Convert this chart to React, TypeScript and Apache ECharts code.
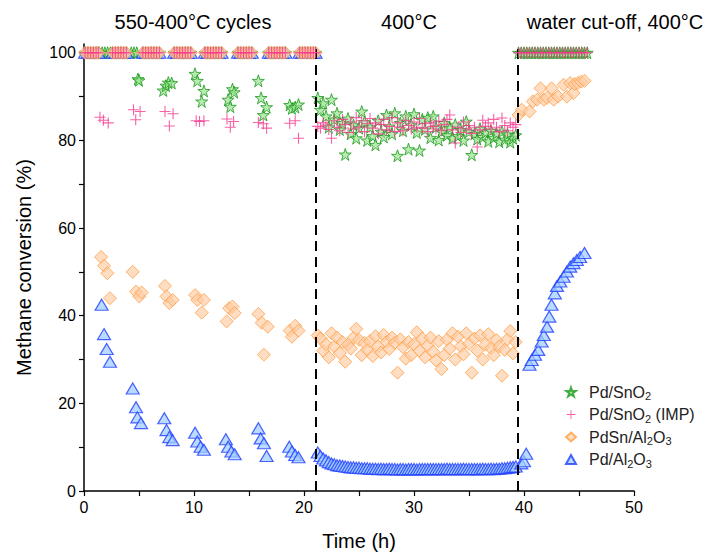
import React, { useEffect, useRef } from 'react';
import * as echarts from 'echarts';

// ---- Data (time in h, methane conversion in %) ----
// Times at which all catalysts sit at 100 % during the 550 °C parts of the cycles
const cycleHighTimes = [
  0.1, 0.35, 0.6, 0.85, 1.1, 1.3,
  2.6, 2.85, 3.1, 3.35, 3.6, 3.85,
  5.35, 5.6, 5.85, 6.1, 6.35, 6.6, 6.85,
  8.2, 8.45, 8.7, 8.95, 9.2, 9.45, 9.7,
  11.0, 11.25, 11.5, 11.75, 12.0, 12.25, 12.5,
  14.0, 14.25, 14.5, 14.75, 15.0, 15.25,
  16.8, 17.05, 17.3, 17.55, 17.8, 18.05, 18.3,
  19.6, 19.85, 20.1, 20.35, 20.6, 20.85, 21.05,
];
// Extra 100 % points of Pd/SnO2 (it stays at full conversion longer)
const snO2ExtraHighTimes = [1.4, 1.65, 1.9, 2.15, 2.4, 4.3, 4.55, 4.8];
// 100 % points after water cut-off (Pd/SnO2 and Pd/SnO2 IMP)
const waterCutHighTimes = [
  39.5, 39.75, 40.0, 40.25, 40.5, 40.75, 41.0, 41.25, 41.5, 41.75, 42.0, 42.25, 42.5,
  42.75, 43.0, 43.25, 43.5, 43.75, 44.0, 44.25, 44.5, 44.75, 45.0, 45.25, 45.5, 45.75,
];

// Pd/SnO2
const snO2CycleLow = [
  [4.9, 94.0], [5.0, 93.7], [7.2, 91.4], [7.45, 92.5], [7.67, 93.2], [7.97, 93.1],
  [10.09, 95.2], [10.3, 93.6], [10.7, 88.9], [10.9, 91.3], [13.1, 89.3], [13.3, 87.7],
  [13.5, 91.7], [13.65, 91.0], [15.85, 93.6], [16.1, 89.7], [16.3, 85.8], [16.6, 87.6],
  [18.7, 88.1], [18.9, 87.3], [19.2, 87.6], [19.5, 88.2],
];
const snO2Steady = [
  [21.25, 89.7], [21.5, 87.0], [21.75, 88.5], [22.0, 85.5], [22.25, 83.0], [22.5, 89.3],
  [22.75, 84.8], [23.0, 86.2], [23.25, 82.5], [23.5, 84.0], [23.75, 76.8], [24.0, 85.0],
  [24.25, 81.5], [24.5, 83.5], [24.75, 80.5], [25.0, 82.8], [25.25, 86.6], [25.5, 84.2],
  [25.75, 80.0], [26.0, 83.0], [26.25, 81.0], [26.5, 79.0], [26.75, 84.5], [27.0, 82.0],
  [27.25, 80.8], [27.5, 85.8], [27.75, 83.2], [28.0, 81.5], [28.25, 86.2], [28.5, 76.5],
  [28.75, 84.0], [29.0, 82.2], [29.25, 85.5], [29.5, 78.0], [29.75, 83.5], [30.0, 86.0],
  [30.25, 81.8], [30.5, 77.7], [30.75, 84.8], [31.0, 82.5], [31.25, 85.2], [31.5, 80.6],
  [31.75, 85.5], [32.0, 83.0], [32.25, 80.1], [32.5, 82.0], [32.75, 84.0], [33.0, 81.2],
  [33.25, 82.8], [33.5, 80.5], [33.75, 83.6], [34.0, 81.0], [34.25, 82.4], [34.5, 80.0],
  [34.75, 84.3], [35.0, 82.0], [35.25, 76.7], [35.5, 81.5], [35.75, 80.3], [36.0, 82.7],
  [36.25, 80.8], [36.5, 81.8], [36.75, 79.8], [37.0, 82.2], [37.25, 80.6], [37.5, 81.6],
  [37.75, 79.7], [38.0, 82.0], [38.25, 80.2], [38.5, 81.4], [38.75, 79.6], [39.0, 80.5],
  [39.25, 81.2],
];

// Pd/SnO2 (IMP)
const impCycleLow = [
  [1.45, 85.3], [1.76, 84.6], [2.2, 84.0], [4.5, 87.0], [4.7, 84.7], [5.1, 86.6],
  [7.36, 86.6], [7.76, 83.3], [8.1, 86.1], [10.2, 84.5], [10.5, 84.3], [10.9, 84.5],
  [13.0, 84.9], [13.3, 83.0], [13.6, 84.3], [15.85, 84.1], [16.3, 83.8], [16.6, 82.8],
  [18.7, 83.9], [19.2, 84.5], [19.5, 80.5],
];
const impSteady = [
  [21.25, 83.2], [21.5, 82.8], [21.75, 84.0], [22.0, 83.5], [22.25, 82.5], [22.5, 80.5],
  [22.75, 84.5], [23.0, 83.0], [23.25, 82.2], [23.5, 84.8], [23.75, 83.6], [24.0, 81.8],
  [24.25, 84.2], [24.5, 82.6], [24.75, 85.2], [25.0, 83.0], [25.25, 84.5], [25.5, 82.0],
  [25.75, 83.8], [26.0, 85.0], [26.25, 82.8], [26.5, 84.0], [26.75, 81.5], [27.0, 83.6],
  [27.25, 84.8], [27.5, 82.4], [27.75, 83.2], [28.0, 85.2], [28.25, 82.0], [28.5, 84.0],
  [28.75, 83.0], [29.0, 82.2], [29.25, 84.6], [29.5, 83.4], [29.75, 82.6], [30.0, 84.2],
  [30.25, 83.0], [30.5, 85.0], [30.75, 82.8], [31.0, 83.8], [31.25, 82.0], [31.5, 84.0],
  [31.75, 83.2], [32.0, 82.6], [32.25, 84.4], [32.5, 82.2], [32.75, 83.6], [33.0, 84.8],
  [33.25, 85.8], [33.5, 82.4], [33.75, 79.4], [34.0, 83.0], [34.25, 81.8], [34.5, 84.2],
  [34.75, 82.6], [35.0, 83.4], [35.25, 81.6], [35.5, 83.0], [35.75, 78.5], [36.0, 82.4],
  [36.25, 84.6], [36.5, 83.2], [36.75, 84.0], [37.0, 82.6], [37.25, 84.8], [37.5, 83.0],
  [37.75, 82.0], [38.0, 85.1], [38.25, 83.4], [38.5, 82.2], [38.75, 84.0], [39.0, 83.0],
  [39.25, 83.6],
];

// PdSn/Al2O3
const pdSnCycleLow = [
  [1.55, 53.4], [1.82, 51.4], [2.12, 49.7], [2.36, 44.0], [4.43, 50.0], [4.73, 45.5],
  [5.03, 44.4], [5.24, 45.3], [7.36, 46.8], [7.5, 44.4], [7.76, 42.9], [8.06, 43.6],
  [10.1, 44.7], [10.3, 43.6], [10.7, 40.7], [10.9, 43.6], [12.97, 38.7], [13.2, 41.7],
  [13.5, 42.1], [13.7, 40.6], [15.85, 40.4], [16.15, 38.4], [16.36, 31.1], [16.7, 37.5],
  [18.7, 36.6], [18.9, 35.2], [19.2, 37.7], [19.5, 36.6],
];
const pdSnSteady = [
  [21.25, 35.5], [21.5, 34.8], [21.75, 32.0], [22.0, 33.5], [22.25, 30.5], [22.5, 36.0],
  [22.75, 33.0], [23.0, 35.0], [23.25, 31.5], [23.5, 34.0], [23.75, 29.5], [24.0, 33.5],
  [24.25, 32.5], [24.5, 35.0], [24.75, 37.0], [25.0, 34.5], [25.25, 31.0], [25.5, 33.8],
  [25.75, 32.2], [26.0, 34.2], [26.25, 30.8], [26.5, 35.3], [26.75, 33.0], [27.0, 31.6],
  [27.25, 35.6], [27.5, 34.0], [27.75, 32.4], [28.0, 35.0], [28.25, 33.8], [28.5, 27.0],
  [28.75, 34.6], [29.0, 32.8], [29.25, 30.2], [29.5, 34.0], [29.75, 31.0], [30.0, 33.5],
  [30.25, 36.2], [30.5, 32.0], [30.75, 34.8], [31.0, 30.5], [31.25, 33.2], [31.5, 35.0],
  [31.75, 31.8], [32.0, 29.8], [32.25, 34.2], [32.5, 27.8], [32.75, 31.0], [33.0, 34.5],
  [33.25, 32.5], [33.5, 36.0], [33.75, 30.0], [34.0, 35.2], [34.25, 33.0], [34.5, 31.2],
  [34.75, 36.0], [35.0, 33.6], [35.25, 27.0], [35.5, 34.8], [35.75, 32.0], [36.0, 35.5],
  [36.25, 30.0], [36.5, 33.4], [36.75, 35.8], [37.0, 32.6], [37.25, 31.0], [37.5, 34.4],
  [37.75, 33.0], [38.0, 26.3], [38.25, 32.2], [38.5, 34.6], [38.75, 36.5], [39.0, 31.4],
  [39.25, 34.0],
];
const pdSnWaterCut = [
  [39.5, 85.8], [39.8, 87.0], [40.5, 86.6], [40.8, 88.9], [41.2, 89.3], [41.5, 91.9],
  [41.8, 89.3], [42.1, 89.7], [42.5, 91.9], [42.7, 89.3], [43.1, 90.0], [43.6, 92.7],
  [43.9, 90.0], [44.2, 93.1], [44.5, 90.8], [44.6, 92.9], [44.9, 93.1], [45.2, 93.4],
  [45.5, 93.6],
];

// Pd/Al2O3
const pdAlCycleLow = [
  [1.6, 42.5], [1.82, 35.8], [2.06, 32.4], [2.36, 29.5], [4.43, 23.4], [4.73, 19.1],
  [4.85, 16.8], [5.18, 15.5], [7.3, 16.6], [7.5, 13.9], [7.76, 12.3], [8.06, 11.6],
  [10.1, 13.3], [10.3, 11.3], [10.6, 10.1], [10.9, 9.4], [12.9, 11.8], [13.1, 10.1],
  [13.4, 9.0], [13.7, 8.4], [15.85, 14.3], [16.06, 12.0], [16.36, 10.9], [16.6, 8.0],
  [18.66, 10.1], [18.9, 9.0], [19.2, 8.2], [19.5, 7.7],
];
const pdAlSteady = [
  [21.25, 8.8], [21.5, 8.0], [21.75, 7.4], [22.0, 7.0], [22.25, 6.6], [22.5, 6.3],
  [22.75, 6.1], [23.0, 5.9], [23.25, 5.8], [23.5, 5.7], [23.75, 5.6], [24.0, 5.5],
  [24.25, 5.4], [24.5, 5.4], [24.75, 5.3], [25.0, 5.3], [25.25, 5.2], [25.5, 5.2],
  [25.75, 5.2], [26.0, 5.1], [26.25, 5.1], [26.5, 5.1], [26.75, 5.0], [27.0, 5.1],
  [27.25, 5.0], [27.5, 5.0], [27.75, 5.1], [28.0, 5.0], [28.25, 5.0], [28.5, 4.9],
  [28.75, 5.0], [29.0, 5.0], [29.25, 4.9], [29.5, 5.0], [29.75, 5.0], [30.0, 5.0],
  [30.25, 4.9], [30.5, 5.0], [30.75, 5.0], [31.0, 5.0], [31.25, 5.0], [31.5, 5.0],
  [31.75, 5.0], [32.0, 5.0], [32.25, 5.0], [32.5, 5.0], [32.75, 5.0], [33.0, 5.1],
  [33.25, 5.0], [33.5, 5.0], [33.75, 5.0], [34.0, 5.0], [34.25, 5.0], [34.5, 5.1],
  [34.75, 5.0], [35.0, 5.0], [35.25, 5.0], [35.5, 5.0], [35.75, 5.0], [36.0, 5.0],
  [36.25, 5.1], [36.5, 5.0], [36.75, 5.0], [37.0, 5.1], [37.25, 5.0], [37.5, 5.1],
  [37.75, 5.1], [38.0, 5.2], [38.25, 5.2], [38.5, 5.3], [38.75, 5.4], [39.0, 5.5],
  [39.25, 5.6],
];
const pdAlWaterCut = [
  [39.75, 6.3], [40.0, 6.8], [40.2, 8.5], [40.5, 28.8], [40.7, 29.9], [41.0, 31.1],
  [41.3, 32.2], [41.6, 34.1], [41.8, 35.6], [42.1, 37.5], [42.3, 39.8], [42.5, 42.5],
  [42.8, 45.1], [43.0, 46.8], [43.3, 47.8], [43.6, 48.9], [43.9, 50.1], [44.2, 51.2],
  [44.5, 52.0], [44.8, 52.7], [45.1, 53.4], [45.5, 54.3],
];

// Axis ticks / labels
const xTickValues = [0, 5, 10, 15, 20, 25, 30, 35, 40, 45, 50];
const xLabelValues = [0, 10, 20, 30, 40, 50];
const yTickValues = [0, 10, 20, 30, 40, 50, 60, 70, 80, 90, 100];
const yLabelValues = [0, 20, 40, 60, 80, 100];
const phaseBoundaries = [21.1, 39.4];
const phaseLabels = ['550-400°C cycles', '400°C', 'water cut-off, 400°C'];

const seriesNames = ['Pd/SnO2', 'Pd/SnO2 (IMP)', 'PdSn/Al2O3', 'Pd/Al2O3'];

const FONT = '"Liberation Sans", Arial, sans-serif';
const STAR =
  'path://M50,0 L61.8,35.1 L98.1,35.1 L68.7,56.8 L79.4,91.5 L50,70 L20.6,91.5 L31.3,56.8 L1.9,35.1 L38.2,35.1 Z';
const PLUS = 'path://M45,0 H55 V45 H100 V55 H55 V100 H45 V55 H0 V45 H45 Z';

const high = (ts: number[]) => ts.map((t) => [t, 100]);

export default function App() {
  const ref = useRef<HTMLDivElement>(null);

  useEffect(() => {
    if (!ref.current) return;
    const chart = echarts.init(ref.current, undefined, { renderer: 'svg' });

    const legendFmt: Record<string, string> = {
      'Pd/SnO2': 'Pd/SnO{s|2}',
      'Pd/SnO2 (IMP)': 'Pd/SnO{s|2} (IMP)',
      'PdSn/Al2O3': 'PdSn/Al{s|2}O{s|3}',
      'Pd/Al2O3': 'Pd/Al{s|2}O{s|3}',
    };

    const option: any = {
      animation: false,
      backgroundColor: '#ffffff',
      textStyle: { fontFamily: FONT },
      grid: { left: 84, right: 75, top: 44, bottom: 68 },
      xAxis: {
        type: 'value',
        min: 0,
        max: 50,
        name: 'Time (h)',
        nameLocation: 'middle',
        nameGap: 40,
        nameTextStyle: { fontFamily: FONT, fontSize: 20, color: '#000' },
        axisLine: { show: true, onZero: false, lineStyle: { color: '#000', width: 1.5 } },
        axisTick: { show: true, inside: false, length: 5, customValues: xTickValues, lineStyle: { color: '#000', width: 1.2 } },
        axisLabel: { customValues: xLabelValues, fontFamily: FONT, fontSize: 16, color: '#000', margin: 8 },
        splitLine: { show: false },
      },
      yAxis: {
        type: 'value',
        min: 0,
        max: 102,
        name: 'Methane conversion (%)',
        nameLocation: 'middle',
        nameGap: 50,
        nameTextStyle: { fontFamily: FONT, fontSize: 20, color: '#000' },
        axisLine: { show: true, onZero: false, lineStyle: { color: '#000', width: 1.5 } },
        axisTick: { show: true, inside: false, length: 5, customValues: yTickValues, lineStyle: { color: '#000', width: 1.2 } },
        axisLabel: { customValues: yLabelValues, fontFamily: FONT, fontSize: 16, color: '#000', margin: 8 },
        splitLine: { show: false },
      },
      legend: {
        data: seriesNames,
        orient: 'vertical',
        left: 560,
        top: 379,
        itemWidth: 10,
        itemHeight: 9,
        itemGap: 5,
        formatter: (n: string) => legendFmt[n] || n,
        textStyle: {
          fontFamily: FONT,
          fontSize: 16,
          color: '#222',
          padding: [0, 0, 0, 8],
          rich: { s: { fontFamily: FONT, fontSize: 11, color: '#222', padding: [8, 0, 0, 0] } },
        },
      },
      graphic: [
        { type: 'text', x: 193, y: 22, style: { text: phaseLabels[0], font: `20px ${FONT}`, fill: '#000', align: 'center', verticalAlign: 'middle' } },
        { type: 'text', x: 409, y: 22, style: { text: phaseLabels[1], font: `20px ${FONT}`, fill: '#000', align: 'center', verticalAlign: 'middle' } },
        { type: 'text', x: 615, y: 22, style: { text: phaseLabels[2], font: `20px ${FONT}`, fill: '#000', align: 'center', verticalAlign: 'middle' } },
      ],
      series: [
        {
          name: 'Pd/SnO2',
          type: 'scatter',
          symbol: STAR,
          symbolSize: 12,
          z: 2,
          itemStyle: { color: 'rgba(150,225,140,0.85)', borderColor: '#1c9a1c', borderWidth: 1 },
          data: [
            ...high(cycleHighTimes),
            ...high(snO2ExtraHighTimes),
            ...snO2CycleLow,
            ...snO2Steady,
            ...high(waterCutHighTimes),
          ],
        },
        {
          name: 'Pd/Al2O3',
          type: 'scatter',
          symbol: 'triangle',
          symbolSize: [13, 11],
          z: 3,
          itemStyle: { color: 'rgba(160,205,255,0.9)', borderColor: '#1f3dff', borderWidth: 1.2 },
          data: [...high(cycleHighTimes), ...pdAlCycleLow, ...pdAlSteady, ...pdAlWaterCut],
        },
        {
          name: 'PdSn/Al2O3',
          type: 'scatter',
          symbol: 'diamond',
          symbolSize: 13,
          z: 4,
          itemStyle: { color: 'rgba(253,205,165,0.85)', borderColor: '#ff9f45', borderWidth: 1 },
          data: [...high(cycleHighTimes), ...pdSnCycleLow, ...pdSnSteady, ...pdSnWaterCut],
        },
        {
          name: 'Pd/SnO2 (IMP)',
          type: 'scatter',
          symbol: PLUS,
          symbolSize: 11,
          z: 5,
          itemStyle: { color: '#f5398f', borderWidth: 0 },
          data: [...high(cycleHighTimes), ...impCycleLow, ...impSteady, ...high(waterCutHighTimes)],
          markLine: {
            silent: true,
            symbol: 'none',
            label: { show: false },
            lineStyle: { color: '#000', type: [10, 6], width: 2 },
            data: phaseBoundaries.map((x) => ({ xAxis: x })),
          },
        },
      ],
    };

    chart.setOption(option);
    return () => chart.dispose();
  }, []);

  return <div ref={ref} style={{ position: 'fixed', left: 0, top: 0, width: 709, height: 559 }} />;
}
